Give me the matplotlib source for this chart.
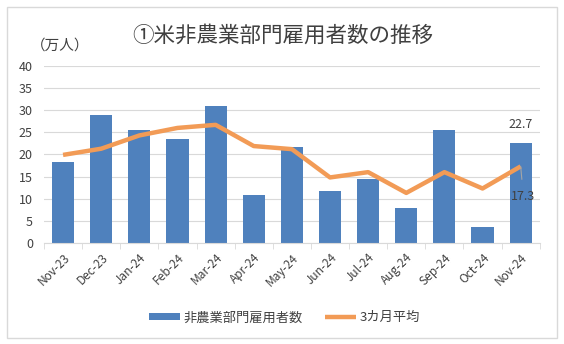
import matplotlib
matplotlib.use('Agg')
import matplotlib.pyplot as plt
import numpy as np
from matplotlib.patches import Rectangle

plt.rcParams['font.family'] = ['Noto Sans CJK JP', 'DejaVu Sans']

# data
months = ['Nov-23', 'Dec-23', 'Jan-24', 'Feb-24', 'Mar-24', 'Apr-24', 'May-24',
          'Jun-24', 'Jul-24', 'Aug-24', 'Sep-24', 'Oct-24', 'Nov-24']
payrolls = [18.2, 29.0, 25.6, 23.5, 31.0, 10.8, 21.6, 11.8, 14.4, 7.8, 25.5, 3.6, 22.7]
avg3 = [19.9, 21.3, 24.3, 26.0, 26.7, 21.9, 21.2, 14.8, 16.0, 11.3, 16.0, 12.3, 17.3]

bar_color = '#4F81BD'
line_color = '#F29B56'
text_color = '#404040'

fig = plt.figure(figsize=(5.64, 3.44), dpi=100)
ax = fig.add_axes([0.078, 0.294, 0.879, 0.514])

x = np.arange(len(months))
bars = ax.bar(x, payrolls, width=0.58, color=bar_color, zorder=2)
line, = ax.plot(x, avg3, color=line_color, linewidth=3.2, zorder=3,
                solid_capstyle='butt')

ax.set_ylim(0, 40)
ax.set_xlim(-0.5, len(months) - 0.5)
ax.set_yticks(range(0, 41, 5))
ax.yaxis.grid(True, color='#d9d9d9', linewidth=0.8, zorder=0)
ax.set_axisbelow(True)
for s in ['top', 'right', 'left']:
    ax.spines[s].set_visible(False)
ax.spines['bottom'].set_color('#d9d9d9')

ax.tick_params(axis='y', length=0, labelsize=9, labelcolor=text_color, pad=8)
ax.set_xticks(x)
ax.set_xticklabels(months, rotation=45, ha='right', rotation_mode='anchor',
                   fontsize=8.5, color=text_color)
ax.tick_params(axis='x', length=0, pad=6)
ax.set_xticks(np.arange(-0.5, len(months), 1), minor=True)
ax.tick_params(axis='x', which='minor', length=4, color='#d9d9d9')

# data labels on the last month
ax.annotate(f'{payrolls[-1]:.1f}', (x[-1], payrolls[-1]), xytext=(0, 8),
            textcoords='offset points', ha='center', va='bottom',
            fontsize=9, color=text_color)
ax.annotate(f'{avg3[-1]:.1f}', (x[-1], avg3[-1]), xytext=(2, -22),
            textcoords='offset points', ha='center', va='center',
            fontsize=9, color=text_color,
            arrowprops=dict(arrowstyle='-', color='#a6a6a6', lw=0.8,
                            shrinkA=6, shrinkB=0))

fig.text(0.502, 0.895, '①米非農業部門雇用者数の推移', ha='center', va='center',
         fontsize=15.5, color=text_color)
fig.text(0.054, 0.868, '（万人）', ha='left', va='center', fontsize=10.5,
         color=text_color)

leg = fig.legend([bars, line], ['非農業部門雇用者数', '3カ月平均'],
                 loc='center', bbox_to_anchor=(0.505, 0.076), ncol=2, frameon=False,
                 fontsize=9.5, handlelength=2.3, handleheight=0.45, columnspacing=1.7,
                 handletextpad=0.3, labelcolor=text_color)

# outer chart border
fig.patches.append(Rectangle((0.0125, 0.017), 0.9755, 0.963, transform=fig.transFigure,
                             fill=False, edgecolor='#d9d9d9', linewidth=1))

fig.savefig('out.png', dpi=100)
